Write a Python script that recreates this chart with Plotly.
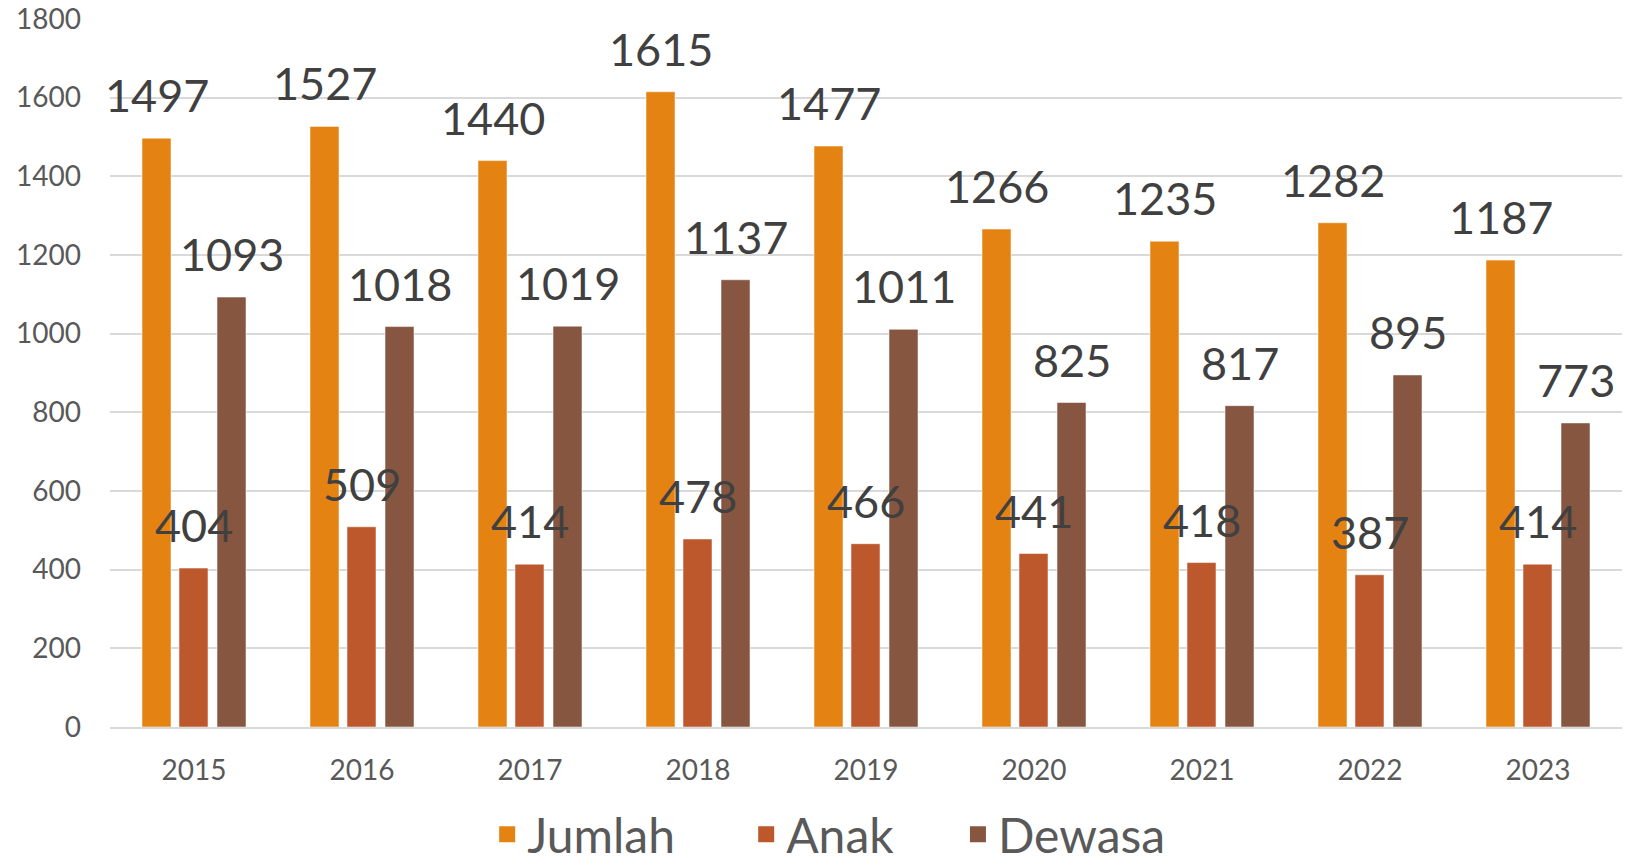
import plotly.graph_objects as go

years = ["2015", "2016", "2017", "2018", "2019", "2020", "2021", "2022", "2023"]
jumlah = [1497, 1527, 1440, 1615, 1477, 1266, 1235, 1282, 1187]
anak = [404, 509, 414, 478, 466, 441, 418, 387, 414]
dewasa = [1093, 1018, 1019, 1137, 1011, 825, 817, 895, 773]

FONT = "Lato"
BAR_W = 0.1726
# (name, values, colour, bar offset within category); drawn in this order
series = [
    ("Jumlah", jumlah, "#E48312", -0.3095),
    ("Dewasa", dewasa, "#865640", 0.137),
    ("Anak", anak, "#BD582C", -0.0893),
]

fig = go.Figure()
for name, vals, col, off in series:
    fig.add_trace(go.Bar(
        x=years, y=vals, name=name, showlegend=False,
        offset=off, width=BAR_W,
        marker=dict(color=col, line=dict(color="rgba(255,255,255,0.5)", width=1)),
        cliponaxis=False,
    ))
# data labels (drawn on top of all bars)
for name, vals, col, off in series:
    for i, v in enumerate(vals):
        fig.add_annotation(
            x=i + off + BAR_W / 2, y=v, xref="x", yref="y",
            text=str(v), showarrow=False, yanchor="bottom", yshift=14,
            font=dict(family=FONT, size=45, color="#404040"),
        )
# legend entries, each in its own legend box so spacing matches
legend_items = [("Jumlah", "#E48312", "legend", 0.2998),
                ("Anak", "#BD582C", "legend2", 0.4592),
                ("Dewasa", "#865640", "legend3", 0.5895)]
for name, col, lg, _ in legend_items:
    fig.add_trace(go.Scatter(
        x=[None], y=[None], mode="markers", name=name,
        marker=dict(symbol="square", size=32, color=col),
        showlegend=True, legend=lg,
    ))

legend_style = dict(orientation="h", xref="container", xanchor="left",
                    yref="paper", y=-0.152, yanchor="middle",
                    font=dict(family=FONT, size=48, color="#595959"),
                    itemsizing="trace", bgcolor="rgba(0,0,0,0)")
layout_legends = {lg: dict(legend_style, x=xpos) for _, _, lg, xpos in legend_items}

fig.update_layout(
    width=1625, height=865,
    margin=dict(l=110, r=3, t=19, b=138, autoexpand=False),
    plot_bgcolor="white", paper_bgcolor="white",
    barmode="overlay",
    font=dict(family=FONT, color="#595959"),
    **layout_legends,
)
fig.update_yaxes(range=[0, 1800], dtick=200, showgrid=True, gridcolor="#D9D9D9", gridwidth=1.5,
                 zeroline=False, showline=False, ticklabeloverflow="allow",
                 tickfont=dict(family=FONT, size=28, color="#595959"), ticklabelstandoff=28)
fig.update_xaxes(showline=True, linecolor="#D9D9D9", linewidth=1.5, range=[-0.5, 8.5],
                 ticklabeloverflow="allow",
                 tickfont=dict(family=FONT, size=28, color="#595959"), ticklabelstandoff=18)

fig.write_html("out.html", config={"displayModeBar": False},
               post_script="document.body.style.margin='0px';")
